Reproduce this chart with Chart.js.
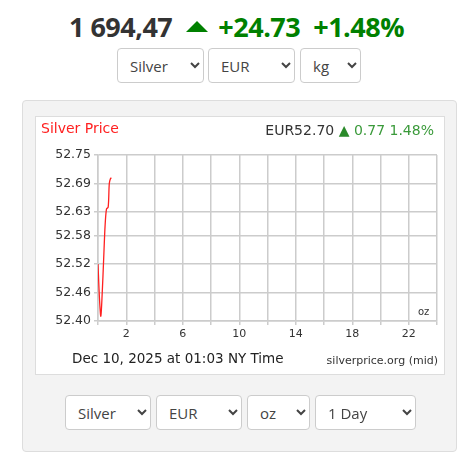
<!DOCTYPE html>
<html>
<head>
<meta charset="utf-8">
<script src="https://cdn.jsdelivr.net/npm/chart.js@4"></script>
<style>
body { margin:0; width:473px; height:471px; background:#fff; font-family:"Open Sans", sans-serif; position:relative; overflow:hidden; }
#head { position:absolute; top:8px; left:0; width:473px; text-align:center; font-size:27px; font-weight:700; color:#333; white-space:nowrap; letter-spacing:-0.5px; }
#head .g { color:#008000; }
#head .tri { display:inline-block; width:0; height:0; border-left:11px solid transparent; border-right:11px solid transparent; border-bottom:11px solid #008000; margin:0 10px 0 14px; vertical-align:5px; }
select { position:absolute; height:35px; border:1px solid #ccc; border-radius:4px; background:#fff; font-family:"Open Sans", sans-serif; font-size:15px; color:#444; padding:0 8px; }
#panel { position:absolute; left:22px; top:100px; width:433px; height:350px; background:#f3f3f3; border:1px solid #ddd; border-radius:4px; }
#box { position:absolute; left:35px; top:116px; width:408px; height:257px; background:#fff; border:1px solid #ddd; }
canvas { position:absolute; left:0; top:0; }
.t { position:absolute; font-family:"DejaVu Sans", sans-serif; white-space:nowrap; }
</style>
</head>
<body>
<div id="head">1 694,47<span class="tri"></span><span class="g">+24.73</span>&nbsp; <span class="g">+1.48%</span></div>
<select style="left:117px;top:48px;width:87px"><option>Silver</option></select>
<select style="left:208px;top:48px;width:87px"><option>EUR</option></select>
<select style="left:300px;top:48px;width:61px"><option>kg</option></select>
<div id="panel"></div>
<div id="box">
  <canvas id="c" width="408" height="257"></canvas>
  <div class="t" style="left:5px;top:3px;font-size:14px;color:#ff2020">Silver Price</div>
  <div class="t" style="right:10px;top:5px;font-size:14px;color:#333">EUR52.70 <span style="color:#2a8a2a">&#9650;</span> <span style="color:#3a9a3a">0.77 1.48%</span></div>
  <div class="t" style="left:36px;top:233px;font-size:13.5px;color:#222">Dec 10, 2025 at 01:03 NY Time</div>
  <div class="t" style="right:6px;top:237px;font-size:11px;color:#333">silverprice.org (mid)</div>
  <div class="t" style="left:382px;top:189px;font-size:10px;color:#333">oz</div>
</div>
<select style="left:65px;top:395px;width:86px"><option>Silver</option></select>
<select style="left:156px;top:395px;width:86px"><option>EUR</option></select>
<select style="left:247px;top:395px;width:63px"><option>oz</option></select>
<select style="left:315px;top:395px;width:101px"><option>1 Day</option></select>
<script>
const hours = [0, 0.1, 0.2, 0.3, 0.4, 0.5, 0.6, 0.72, 0.8, 0.88, 0.95];
const prices = [52.52, 52.45, 52.41, 52.46, 52.53, 52.60, 52.636, 52.64, 52.69, 52.70, 52.702];
const yTicks = [52.40, 52.46, 52.52, 52.58, 52.63, 52.69, 52.75];

new Chart(document.getElementById('c'), {
  type: 'line',
  data: { datasets: [{ data: hours.map((h, i) => ({x: h, y: prices[i]})), borderColor: '#ff2020', borderWidth: 1.3, pointRadius: 0, tension: 0.3 }] },
  options: {
    responsive: false, animation: false,
    layout: { padding: { left: 0, top: 38, right: 7, bottom: 0 } },
    plugins: { legend: { display: false }, tooltip: { enabled: false } },
    scales: {
      x: {
        type: 'linear', min: 0, max: 24,
        grid: { color: '#cccccc', lineWidth: 1.5, tickLength: 4 },
        border: { color: '#cccccc', width: 1.5 },
        ticks: { stepSize: 2, autoSkip: false, maxRotation: 0, color: '#333', font: { family: 'DejaVu Sans', size: 11 },
          callback: v => ((v - 2) % 4 === 0 ? String(v) : '') },
        afterFit: a => { a.height = 53; }
      },
      y: {
        min: 52.40, max: 52.75,
        afterBuildTicks: a => { a.ticks = yTicks.map(v => ({value: v})); },
        grid: { color: '#cccccc', lineWidth: 1.5, tickLength: 4 },
        border: { color: '#cccccc', width: 1.5 },
        ticks: { color: '#333', font: { family: 'DejaVu Sans', size: 12.5 }, callback: v => v.toFixed(2) },
        afterFit: a => { a.width = 62; }
      }
    }
  }
});
</script>
</body>
</html>
